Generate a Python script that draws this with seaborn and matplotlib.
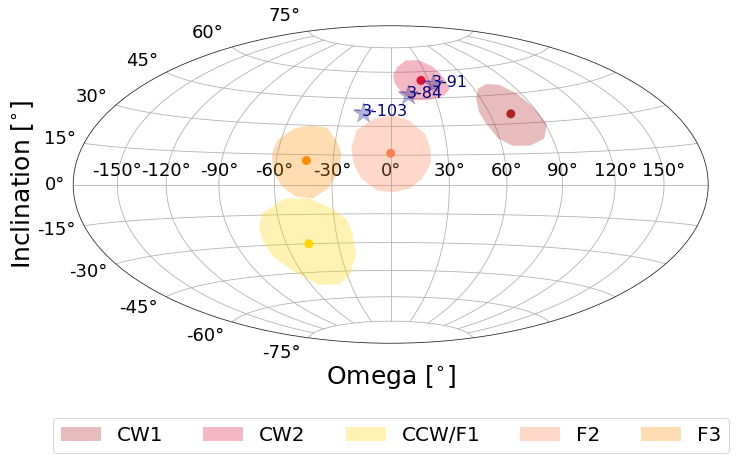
import numpy as np
import pandas as pd
import matplotlib
matplotlib.use("Agg")
import matplotlib.pyplot as plt
import seaborn as sns

sns.set_style("white", rc={"text.color": "black", "axes.labelcolor": "black",
                           "xtick.color": "black", "ytick.color": "black",
                           "grid.color": "#b0b0b0"})
plt.rcParams["font.family"] = ["DejaVu Sans"]

labels = ["CW1", "CW2", "CCW/F1", "F2", "F3"]
colors = ["firebrick", "crimson", "gold", "coral", "darkorange"]

# outlines of the regions, in degrees
cw1_lon = [57, 63, 72, 81, 87, 90, 91, 85, 76, 66, 59, 55, 54]
cw1_lat = [44, 49, 51, 50, 45, 37, 29, 22, 19, 19, 23, 31, 37]
cw2_lon = [2, 6, 16, 30, 40, 43, 43, 36, 25, 14, 7, 3]
cw2_lat = [58, 63, 67, 67, 63, 57, 50, 46, 44, 44, 49, 54]
f1_lon = [-72, -68, -55, -42, -31, -23, -21, -21, -28, -38, -54, -64, -72, -73]
f1_lat = [-21, -14, -7, -7, -12, -18, -25, -37, -47, -52, -52, -45, -36, -28]
f2_lon = [-21, -19, -10, 1, 11, 19, 21, 21, 16, 10, 1, -7, -15, -19]
f2_lat = [19, 28, 34, 36, 33, 26, 19, 11, 3, -2, -4, -3, 3, 10]
f3_lon = [-63, -62, -55, -47, -36, -29, -26, -27, -32, -40, -49, -56, -61]
f3_lat = [15, 22, 28, 30, 29, 22, 16, 6, -2, -7, -6, -1, 7]

# mean position of each region
center_lon = [73, 24, -47, 0, -44]
center_lat = [35, 55, -30, 16, 12]

# single stars
star_names = ["3-103", "3-84", "3-91"]
star_lon = [-17, 12, 32]
star_lat = [37, 47, 53]

outlines = [(cw1_lon, cw1_lat), (cw2_lon, cw2_lat), (f1_lon, f1_lat), (f2_lon, f2_lat), (f3_lon, f3_lat)]

fig = plt.figure(figsize=(736 / 72, 458 / 72), dpi=72)
ax = fig.add_axes([73.2 / 736, 114.5 / 458, 635 / 736, 318 / 458], projection="hammer")

for (lon, lat), c, name in zip(outlines, colors, labels):
    ax.fill(np.radians(lon), np.radians(lat), color=c, alpha=0.3, lw=0, label=name)

centers = pd.DataFrame({"lon": np.radians(center_lon), "lat": np.radians(center_lat), "name": labels})
sns.scatterplot(data=centers, x="lon", y="lat", hue="name", palette=colors, s=80,
                edgecolor="none", legend=False, ax=ax, zorder=3)

stars = pd.DataFrame({"lon": np.radians(star_lon), "lat": np.radians(star_lat)})
sns.scatterplot(data=stars, x="lon", y="lat", marker="*", s=450, color="navy", edgecolor="navy",
                linewidth=0.5, alpha=0.3, legend=False, ax=ax, zorder=4)
for name, x, y in zip(star_names, stars["lon"], stars["lat"]):
    ax.annotate(name, (x, y), xytext=(-1, -3), textcoords="offset points",
                color="navy", fontsize=16, zorder=5)

ax.grid(True)
ax.tick_params(labelsize=18)
ax.set_xlabel("Omega [$^{\\circ}$]", fontsize=25, labelpad=20)
ax.set_ylabel("Inclination [$^{\\circ}$]", fontsize=25, labelpad=2)
ax.legend(loc="upper center", bbox_to_anchor=(0.5, -0.203), ncol=5, fontsize=20, frameon=True)

fig.savefig("out.png", dpi=72)
